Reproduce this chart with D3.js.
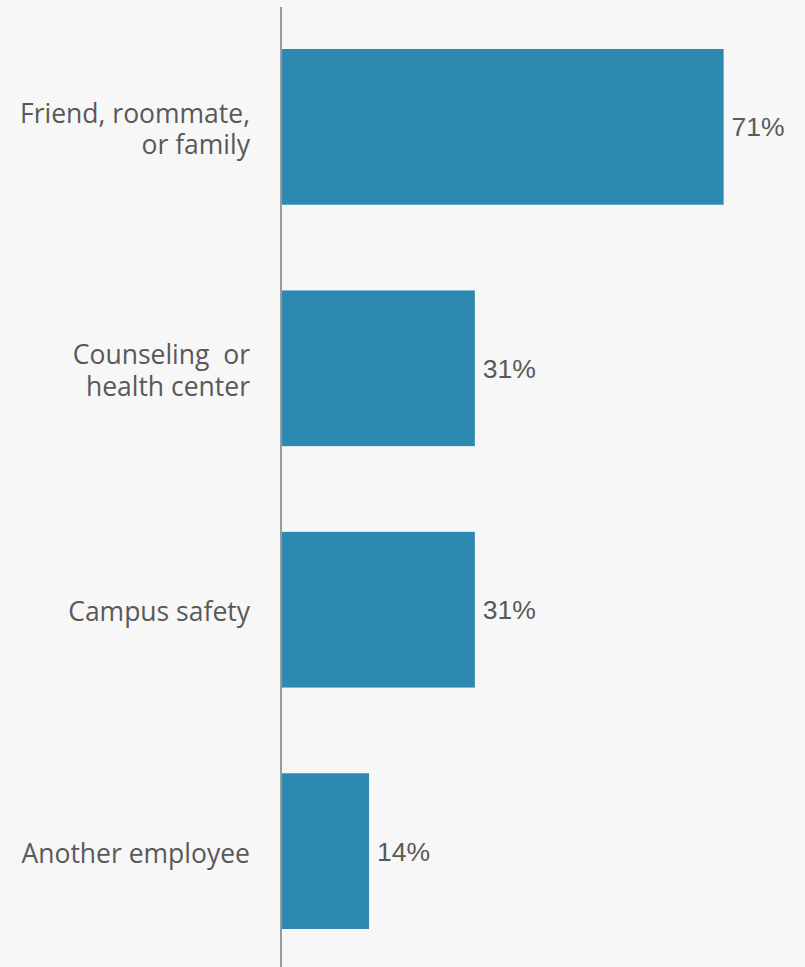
<!DOCTYPE html>
<html>
<head>
<meta charset="utf-8">
<script src="https://cdn.jsdelivr.net/npm/d3@7"></script>
<style>
  html, body { margin: 0; padding: 0; background: #f7f7f7; }
  svg { display: block; }
</style>
</head>
<body>
<script>
const categories = [
  ["Friend, roommate,", "or family"],
  ["Counseling  or", "health center"],
  ["Campus safety"],
  ["Another employee"]
];
const values = [71, 31, 31, 14];
const valueLabels = ["71%", "31%", "31%", "14%"];

const W = 805, H = 967;
const svg = d3.select("body").append("svg").attr("width", W).attr("height", H);
svg.append("rect").attr("width", W).attr("height", H).attr("fill", "#f7f7f7");

const x = d3.scaleLinear().domain([0, 100]).range([282, 904]);
const y = d3.scaleBand().domain(d3.range(values.length)).range([7, 971])
  .paddingInner(0.355).paddingOuter(0.174);

svg.selectAll("rect.bar").data(values).join("rect")
  .attr("class", "bar")
  .attr("x", x(0))
  .attr("y", (d, i) => y(i))
  .attr("width", d => x(d) - x(0))
  .attr("height", y.bandwidth())
  .attr("fill", "#2e89b0");

svg.append("line")
  .attr("x1", 281).attr("x2", 281)
  .attr("y1", 7).attr("y2", H)
  .attr("stroke", "#9a9a9a").attr("stroke-width", 2);

svg.selectAll("text.val").data(values).join("text")
  .attr("class", "val")
  .attr("x", d => x(d) + 8)
  .attr("y", (d, i) => y(i) + y.bandwidth() / 2 + 9.5)
  .attr("font-family", "'Liberation Sans', Arial, sans-serif")
  .attr("font-size", "26.5px")
  .attr("fill", "#595959")
  .text((d, i) => valueLabels[i]);

const cat = svg.selectAll("text.cat").data(categories).join("text")
  .attr("class", "cat")
  .attr("text-anchor", "end")
  .attr("font-family", "'Open Sans', sans-serif")
  .attr("font-size", "26.5px")
  .attr("fill", "#595959")
  .style("white-space", "pre");

cat.each(function(lines, i) {
  const c = y(i) + y.bandwidth() / 2;
  const n = lines.length;
  d3.select(this).selectAll("tspan").data(lines).join("tspan")
    .attr("x", 250)
    .attr("y", (l, j) => c + 11.5 + (j - (n - 1) / 2) * 31.5)
    .text(l => l);
});
</script>
</body>
</html>
